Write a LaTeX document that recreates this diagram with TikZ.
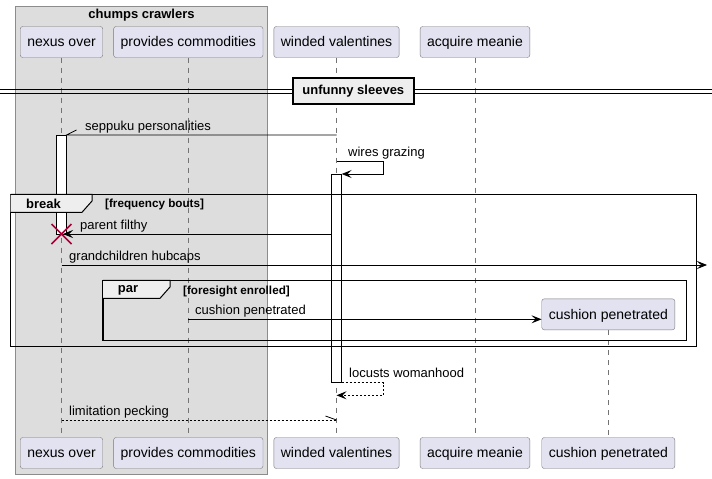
\documentclass[tikz,border=0pt]{standalone}
\usepackage{fontspec}
\setmainfont{Liberation Sans}
\usetikzlibrary{arrows.meta,calc,positioning}

\definecolor{partfill}{HTML}{E2E2F0}
\definecolor{partline}{HTML}{7A7A7A}
\definecolor{groupfill}{HTML}{DDDDDD}
\definecolor{tabfill}{HTML}{EEEEEE}
\definecolor{killred}{HTML}{A80036}

\tikzset{
  part/.style={draw=partline, fill=partfill, rounded corners=2.5pt, minimum height=31pt,
    inner xsep=7pt, inner ysep=0pt, text height=11.5pt, text depth=2pt,
    font=\fontsize{14}{16}\selectfont},
  life/.style={draw=black!55, line width=0.6pt, dash pattern=on 5pt off 5pt},
  msg/.style={line width=0.8pt, -{Stealth[length=10pt,width=8pt,inset=4pt]}},
  retmsg/.style={msg, dash pattern=on 2pt off 2pt},
  lbl/.style={anchor=base west, inner sep=0pt, font=\fontsize{13}{15}\selectfont},
  actbox/.style={draw, fill=white, line width=0.8pt},
  frm/.style={draw, line width=1.5pt},
  tabtxt/.style={inner sep=0pt, font=\bfseries\fontsize{13}{15}\selectfont},
  cond/.style={anchor=base west, inner sep=0pt, font=\bfseries\fontsize{11.7}{13}\selectfont},
}

\begin{document}
\begin{tikzpicture}[x=1pt,y=-1pt]
\useasboundingbox (0,0) rectangle (712,479);
%Gruppe
\draw[draw=black!45, fill=groupfill] (15.5,6) rectangle (267.5,474);
\node[tabtxt] (grp) at (141.5,15) {chumps crawlers};
%Teilnehmer oben und unten
\node[part] (no) at (61.5,42) {nexus over};
\node[part] (pc) at (188.3,42) {provides commodities};
\node[part] (wv) at (336.5,42) {winded valentines};
\node[part] (am) at (475,42) {acquire meanie};
\node[part] (no2) at (61.5,453) {nexus over};
\node[part] (pc2) at (188.3,453) {provides commodities};
\node[part] (wv2) at (336.5,453) {winded valentines};
\node[part] (am2) at (475,453) {acquire meanie};
\node[part] (cp2) at (608.3,453) {cushion penetrated};
%Lebenslinien
\foreach \p in {no,pc,wv,am}{
  \draw[life] (\p.south) -- (\p2.north);
}
\coordinate (cpl) at (608.3,330);
\draw[life] (cpl) -- (cp2.north);
%Trenner
\draw[line width=1pt] (0,89.3) -- (712,89.3) (0,93.3) -- (712,93.3);
\node[frm, fill=tabfill, minimum width=121pt, minimum height=26pt, inner sep=0pt,
  font=\bfseries\fontsize{13}{15}\selectfont] (sep) at (353.3,91) {unfunny sleeves};
%Aktivierungen
\draw[actbox] (56.7,135) rectangle (66.5,234);
\draw[actbox] (331.7,174) rectangle (341.7,382.7);
%seppuku
\coordinate (sepA) at (wv |- 0,135);
\coordinate (sepB) at (66.5,135);
\draw[line width=0.8pt] (sepA) -- (sepB) -- ++(10,-5);
\node[lbl] (sepL) at (85,130.5) {seppuku personalities};
%wires grazing
\coordinate (wgA) at (wv |- 0,161.7);
\coordinate (wgB) at (341.7,174);
\draw[msg] (wgA) -- (383.3,161.7) |- (wgB);
\node[lbl] (wgL) at (348,156.5) {wires grazing};
%break
\draw[frm] (10.7,194.3) rectangle (696.7,346.7);
\draw[frm, fill=tabfill, line width=1pt] (10.7,194.3) -- (92,194.3) -- (92,201) -- (82,212.3) -- (10.7,212.3);
\node[tabtxt] (brk) at (43.5,203.5) {break};
\node[cond] (brkC) at (105,207.3) {[frequency bouts]};
%parent filthy
\coordinate (pfA) at (331.7,234);
\coordinate (pfB) at (63,234);
\draw[msg] (pfA) -- (pfB);
\node[lbl] (pfL) at (80,229.5) {parent filthy};
\draw[killred, line width=1.5pt] (51.5,224) -- (71.5,244) (51.5,244) -- (71.5,224);
%grandchildren
\coordinate (ghA) at (no |- 0,265);
\coordinate (ghB) at (707,265);
\draw[msg] (ghA) -- (ghB);
\node[lbl] (ghL) at (69,260.5) {grandchildren hubcaps};
%par
\draw[frm] (103,280.3) rectangle (686.7,340.3);
\draw[frm, fill=tabfill, line width=1pt] (103,280.3) -- (170,280.3) -- (170,287) -- (160,298.3) -- (103,298.3);
\node[tabtxt] (par) at (128,290) {par};
\node[cond] (parC) at (183,294) {[foresight enrolled]};
\node[part] (cp) at (608.3,314.3) {cushion penetrated};
\coordinate (cpA) at (pc |- 0,319.3);
\draw[msg] (cpA) -- (cp.west |- cpA);
\node[lbl] (cpL) at (195,314.8) {cushion penetrated};
%locusts
\coordinate (lwA) at (341.7,382.7);
\coordinate (lwB) at (wv |- 0,395.3);
\draw[retmsg] (lwA) -- (383.3,382.7) |- (lwB);
\node[lbl] (lwL) at (349,377.5) {locusts womanhood};
%limitation
\coordinate (lpA) at (no |- 0,420);
\coordinate (lpB) at (wv |- 0,420);
\draw[line width=0.8pt, dash pattern=on 2pt off 2pt] (lpA) -- (lpB);
\draw[line width=0.8pt] (lpB) -- ++(-11,-4);
\node[lbl] (lpL) at (69,415.5) {limitation pecking};
\end{tikzpicture}
\end{document}
